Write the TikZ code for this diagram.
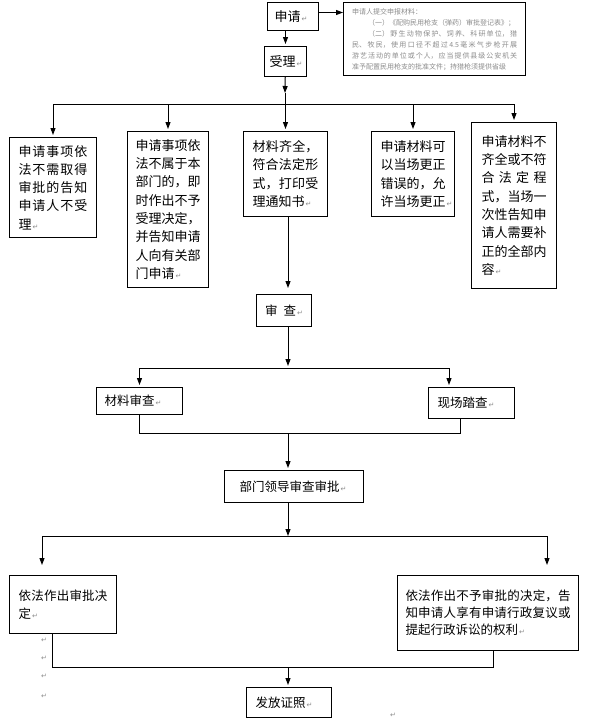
\documentclass[tikz,border=0pt]{standalone}
\usepackage{fontspec}
\setmainfont{Noto Sans CJK SC}
\newfontfamily\markfont{DejaVu Sans}
\usetikzlibrary{positioning, arrows.meta}
\XeTeXlinebreaklocale "zh"
\XeTeXlinebreakskip = 0pt plus 1pt

\newcommand\markglyph{{\markfont\color{black!45}\fontsize{7}{7}\selectfont ↵}}
\newcommand\retmark{\nobreak\rlap{\kern1pt\markglyph}}

\tikzset{
    x=1pt, y=-1pt, % one unit is one pixel of the page, y runs downwards
    flowarrow/.style={-{Triangle[length=7pt,width=5pt]}, line width=1pt, shorten >=2pt}, % connectors with a small solid head
    flowline/.style={line width=1pt}, % plain branch and join lines
    procbox/.style={draw, line width=1pt, anchor=north west, inner ysep=0pt, align=justify,
        execute at begin node=\noindent, font=\fontsize{13}{18.3}\selectfont}, % boxes of the upper rows
    lowbox/.style={procbox, font=\fontsize{12.5}{18}\selectfont}, % boxes of the lower rows
    notetext/.style={anchor=north west, inner sep=0pt, text width=165pt, align=justify, text=black!45,
        execute at begin node=\noindent, font=\fontsize{7}{11}\selectfont}, % small print of the list of papers
    stray/.style={inner sep=0pt}, % empty paragraph marks
}

\begin{document}
\begin{tikzpicture}
    \path[fill=white, use as bounding box] (0,0) rectangle (590,723);

    % request and list of papers
    \node[procbox, text width=37pt, inner xsep=7pt, minimum height=28pt] (apply) at (267,2) {申请\retmark};
    \node[draw, line width=1pt, anchor=north west, minimum width=182pt, minimum height=73pt, inner sep=0pt] (req) at (343,2) {};
    \begin{scope}
        \clip (req.north west) rectangle (req.south east);
        \node[notetext] (reqtext) at ([xshift=9pt,yshift=-6pt]req.north west) {申请人提交申报材料：\\
            \hspace*{16pt}（一）《配购民用枪支（弹药）审批登记表》；\\
            \hspace*{16pt}（二）野生动物保护、饲养、科研单位，猎\linebreak
            民、牧民，使用口径不超过4.5毫米气步枪开展\linebreak
            游艺活动的单位或个人，应当提供县级公安机关\linebreak
            准予配置民用枪支的批准文件；持猎枪须提供省级};
    \end{scope}
    \node[procbox, text width=32pt, inner xsep=5pt, minimum height=30pt] (accept) at (264,46) {受理\retmark};

    % first row of outcomes
    \node[procbox, text width=69pt, inner xsep=9pt, minimum height=100pt] (b1) at (9,137)
        {申请事项依\linebreak 法不需取得\linebreak 审批的告知\linebreak 申请人不受\linebreak 理\retmark};
    \node[procbox, text width=65pt, inner xsep=8pt, minimum height=156pt] (b2) at (127,131)
        {申请事项依\linebreak 法不属于本\linebreak 部门的，即\linebreak 时作出不予\linebreak 受理决定，\linebreak 并告知申请\linebreak 人向有关部\linebreak 门申请\retmark};
    \node[procbox, text width=66pt, inner xsep=9pt, minimum height=85pt] (b3) at (243,131)
        {材料齐全，\linebreak 符合法定形\linebreak 式，打印受\linebreak 理通知书\retmark};
    \node[procbox, text width=65pt, inner xsep=9pt, minimum height=85pt] (b4) at (371,131)
        {申请材料可\linebreak 以当场更正\linebreak 错误的，允\linebreak 许当场更正\retmark};
    \node[procbox, text width=65pt, inner xsep=10pt, minimum height=166pt] (b5) at (471,122)
        {申请材料不\linebreak 齐全或不符\linebreak 合法定程\linebreak 式，当场一\linebreak 次性告知申\linebreak 请人需要补\linebreak 正的全部内\linebreak 容\retmark};

    % review and approval
    \node[lowbox, text width=38pt, inner xsep=8.5pt, minimum height=32pt] (review) at (256,294) {审\hspace{6pt}查\retmark};
    \node[lowbox, text width=70pt, inner xsep=8pt, minimum height=27pt] (matrev) at (96,387) {材料审查\retmark};
    \node[lowbox, text width=68pt, inner xsep=9pt, minimum height=31pt] (site) at (428,387) {现场踏查\retmark};
    \node[lowbox, text width=109pt, inner xsep=15pt, minimum height=32pt] (lead) at (224,470) {部门领导审查审批\retmark};
    \node[lowbox, text width=89pt, inner xsep=9pt, minimum height=58pt] (approve) at (9,575)
        {依法作出审批决\linebreak 定\retmark};
    \node[lowbox, text width=165pt, inner xsep=8pt, minimum height=75pt, font=\fontsize{12.5}{17}\selectfont] (deny) at (397,575)
        {依法作出不予审批的决定，告\linebreak 知申请人享有申请行政复议或\linebreak 提起行政诉讼的权利\retmark};
    \node[lowbox, text width=67pt, inner xsep=9pt, minimum height=30pt] (issue) at (246,687) {发放证照\retmark};

    % empty paragraph marks
    \foreach \y [count=\i] in {640,658,676,696}
        \node[stray] (pm\i) at (44,\y) {\markglyph};
    \node[stray] (pm5) at (393,715) {\markglyph};

    % junctions
    \coordinate (j1) at (285,93);
    \coordinate (fork1) at (285,104);
    \coordinate (spine) at (288,300);
    \coordinate (fork2) at (288,368);
    \coordinate (f2r) at (449,368);
    \coordinate (join2) at (288,433);
    \coordinate (c2r) at (460,433);
    \coordinate (fork3) at (288,536);
    \coordinate (f3l) at (42,536);
    \coordinate (f3r) at (547,536);
    \coordinate (join4) at (288,667);
    \coordinate (c4l) at (52,667);
    \coordinate (c4r) at (493,667);

    % connectors
    \draw[flowarrow, shorten >=0pt] ([yshift=4pt]apply.east) -- ([yshift=4pt]apply.east -| req.west);
    \draw[flowarrow] (apply.south -| accept) -- (accept);
    \draw[flowarrow, shorten >=0pt] (accept) -- (j1);
    \draw[flowline] (j1) -- (fork1);
    \draw[flowline] (b1 |- fork1) -- (b5 |- fork1);
    \foreach \b in {b1,b2,b3,b4,b5}
        \draw[flowarrow] (\b |- fork1) -- (\b);

    \draw[flowarrow, shorten >=6pt] (b3.south -| spine) -- (review.north -| spine);
    \draw[flowarrow] (review.south -| spine) -- (fork2);
    \draw[flowline] (matrev |- fork2) -- (f2r);
    \draw[flowarrow] (matrev |- fork2) -- (matrev);
    \draw[flowarrow] (f2r) -- (f2r |- site.north);
    \draw[flowline] (matrev.south) |- (c2r) -- (c2r |- site.south);
    \draw[flowarrow] (join2) -- (join2 |- lead.north);

    \draw[flowarrow, shorten >=0pt] (lead.south -| fork3) -- (fork3);
    \draw[flowline] (f3l) -- (f3r);
    \draw[flowarrow, shorten >=10pt] (f3l) -- (f3l |- approve.north);
    \draw[flowarrow, shorten >=10pt] (f3r) -- (f3r |- deny.north);
    \draw[flowline] (c4l |- approve.south) -- (c4l) -- (c4r) -- (c4r |- deny.south);
    \draw[flowarrow] (join4) -- (join4 |- issue.north);
\end{tikzpicture}
\end{document}
